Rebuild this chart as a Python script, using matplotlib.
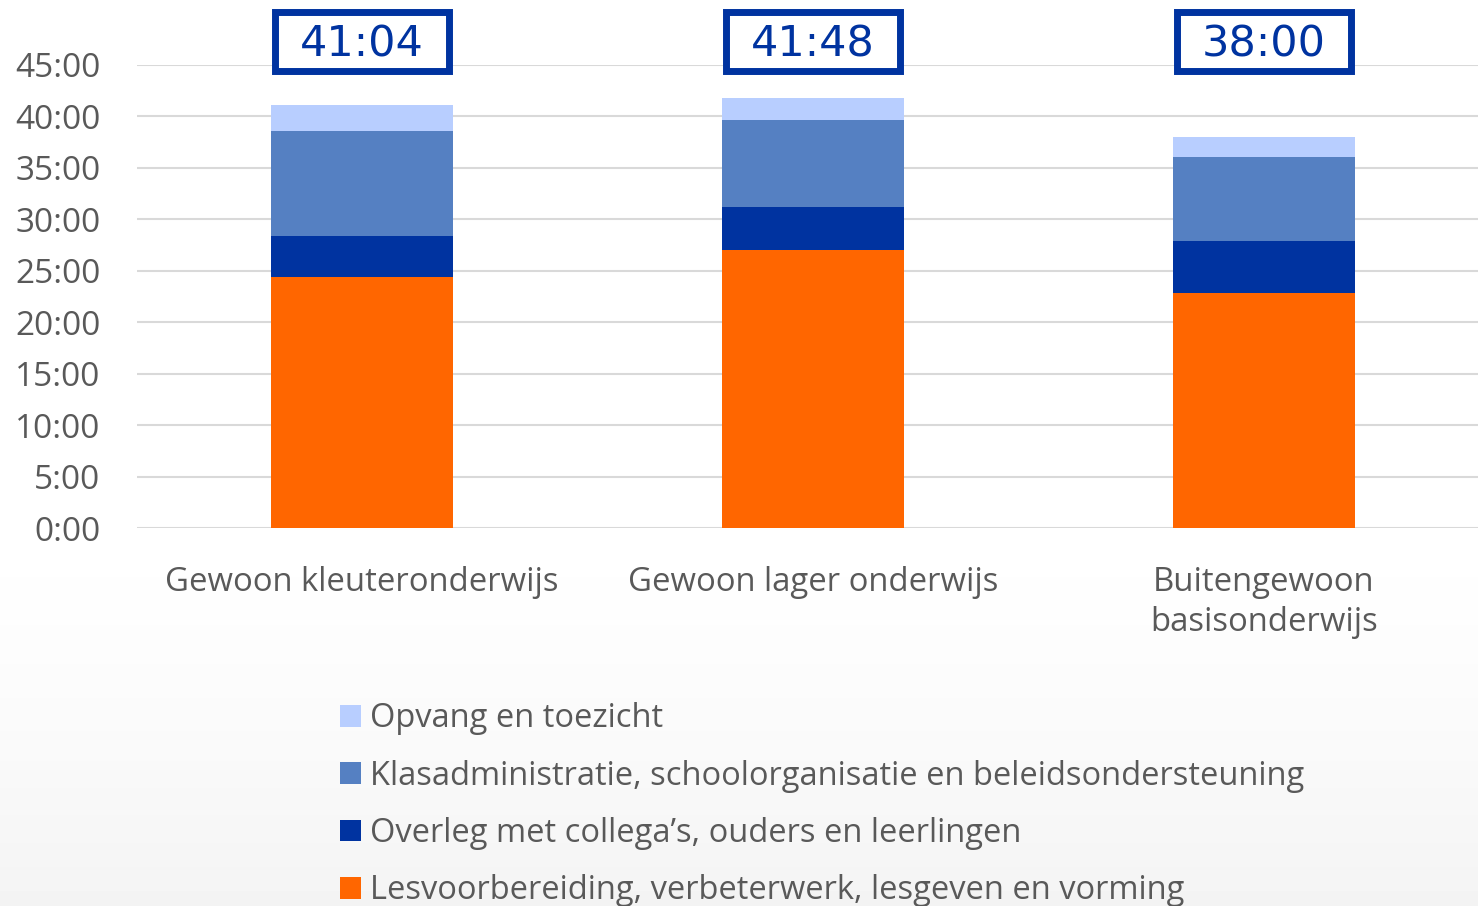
import numpy as np
import matplotlib
matplotlib.use("Agg")
import matplotlib.pyplot as plt
from matplotlib.patches import Rectangle

plt.rcParams['font.family'] = ['Open Sans', 'DejaVu Sans']

# ---- data (hours per week) ----
categories = ["Gewoon kleuteronderwijs", "Gewoon lager onderwijs", "Buitengewoon\nbasisonderwijs"]
les = [24.4, 27.0, 22.8]        # Lesvoorbereiding, verbeterwerk, lesgeven en vorming
overleg = [4.0, 4.2, 5.1]       # Overleg met collega's, ouders en leerlingen
klas = [10.2, 8.4, 8.1]         # Klasadministratie, schoolorganisatie en beleidsondersteuning
opvang = [2.47, 2.2, 2.0]       # Opvang en toezicht
totals = ["41:04", "41:48", "38:00"]
yticks = [0, 5, 10, 15, 20, 25, 30, 35, 40, 45]

series = [
    (les, "Lesvoorbereiding, verbeterwerk, lesgeven en vorming", "#FF6600"),
    (overleg, "Overleg met collega\u2019s, ouders en leerlingen", "#0033A0"),
    (klas, "Klasadministratie, schoolorganisatie en beleidsondersteuning", "#5580C2"),
    (opvang, "Opvang en toezicht", "#B8CEFF"),
]

W, H = 1478, 906
fig = plt.figure(figsize=(W / 100, H / 100), dpi=100)

# subtle grey gradient at the bottom of the background
bg = fig.add_axes([0, 0, 1, 1], zorder=-10)
grad = np.linspace(0, 1, 300)
shade = 1 - 0.045 * np.clip((grad - 0.55) / 0.45, 0, 1) ** 1.5
bg.imshow(shade[:, None], aspect='auto', cmap='gray', vmin=0, vmax=1, extent=[0, 1, 0, 1])
bg.axis('off')

# axes placed in pixel terms
x0, x1 = 136.5, 1489.5
y0, y45 = 528.2, 64.7
ax = fig.add_axes([x0 / W, 1 - y0 / H, (x1 - x0) / W, (y0 - y45) / H])
ax.set_facecolor('none')

x = np.arange(len(categories))
width = 0.404
bottom = np.zeros(len(categories))
handles = []
for vals, label, color in series:
    b = ax.bar(x, vals, width, bottom=bottom, color=color, label=label, zorder=3)
    handles.append(b)
    bottom += np.array(vals)

ax.set_xlim(-0.5, 2.5)
ax.set_ylim(0, 45)
ax.set_yticks(yticks)
ax.set_yticklabels([f"{t}:00" for t in yticks])
ax.yaxis.grid(True, color='#d9d9d9', linewidth=1.5, zorder=0)
ax.set_axisbelow(True)
for s in ax.spines.values():
    s.set_visible(False)
ax.tick_params(axis='y', length=0, pad=26, labelsize=24, labelcolor='#595959')
ax.set_xticks(x)
ax.set_xticklabels(categories, linespacing=1.3)
ax.tick_params(axis='x', length=0, pad=27, labelsize=23.7, labelcolor='#595959')

# total labels in boxes above the bars
for xi, t in zip(x, totals):
    ax.add_patch(Rectangle((xi - 0.194, 44.34), 0.388, 5.73, facecolor='white',
                           edgecolor='#0033A0', linewidth=5, clip_on=False, zorder=5))
    ax.text(xi, 47.0, t, ha='center', va='center', fontsize=31, color='#0033A0',
            family='DejaVu Sans', zorder=6, clip_on=False)

leg = fig.legend(handles=handles[::-1], loc='upper left',
                 bbox_to_anchor=(324 / W, 1 - 686 / H), frameon=False,
                 fontsize=23.5, handlelength=0.64, handleheight=0.64,
                 handletextpad=0.28, labelspacing=0.745, borderpad=0)
for txt in leg.get_texts():
    txt.set_color('#595959')

fig.savefig("out.png", dpi=100)
